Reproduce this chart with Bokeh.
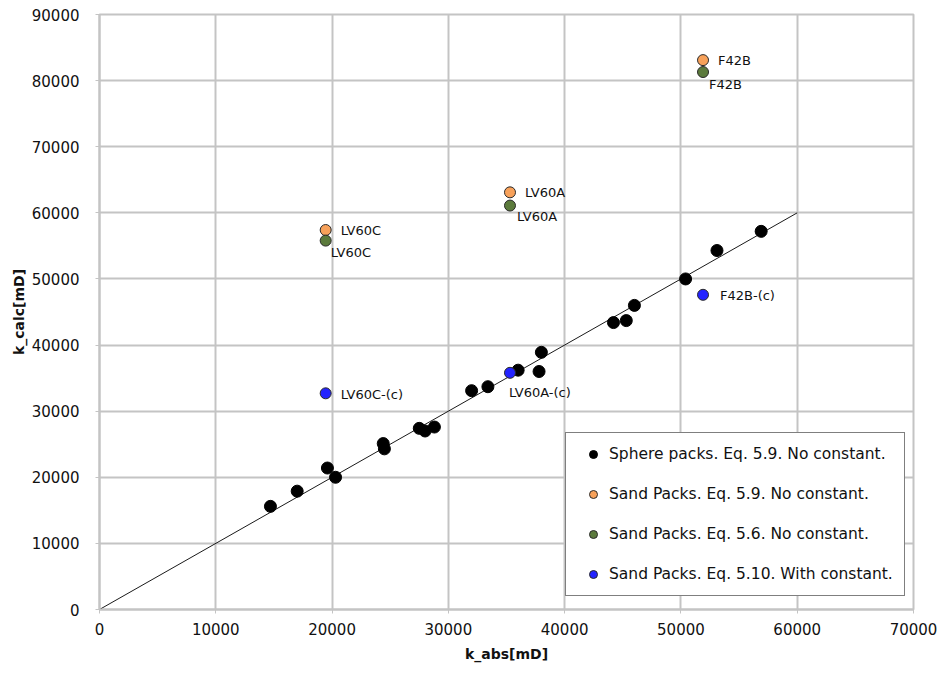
from bokeh.plotting import figure
from bokeh.models import (Range1d, Legend, LegendItem, ColumnDataSource,
                          SingleIntervalTicker, NumeralTickFormatter)
from bokeh.core.properties import value
from bokeh.embed import file_html
from bokeh.resources import INLINE

# Sphere packs, Eq. 5.9 (no constant)
sphere_k_abs = [14700, 17000, 19600, 20300, 24400, 24500, 27500, 28000, 28800,
                32000, 33400, 36000, 37800, 38000, 44200, 45300, 46000,
                50400, 53100, 56900]
sphere_k_calc = [15600, 17900, 21400, 20000, 25100, 24300, 27400, 27000, 27600,
                 33100, 33700, 36200, 36000, 38900, 43400, 43700, 46000,
                 50000, 54300, 57200]

# Sand packs
sand_names = ["LV60C", "LV60A", "F42B"]
sand_k_abs = [19450, 35300, 51900]
sand_eq59 = [57400, 63100, 83100]
sand_eq56 = [55800, 61100, 81300]
sand_eq510 = [32700, 35800, 47600]
sand_eq510_names = ["LV60C-(c)", "LV60A-(c)", "F42B-(c)"]

# 1:1 reference line
ref_k = [0, 60000]

GRID = "#c4c4c4"
ORANGE = "#f7a15a"
GREEN = "#5b7a3c"
BLUE = "#2323ff"
FONT = "DejaVu Sans"
INK = "#111111"

p = figure(width=940, height=676, output_backend="svg", toolbar_location=None,
           x_range=Range1d(0, 70000), y_range=Range1d(0, 90000),
           min_border_left=99, min_border_right=27, min_border_top=14,
           min_border_bottom=67)

p.background_fill_color = "white"
p.border_fill_color = "white"
p.outline_line_color = GRID
p.outline_line_width = 2

for ax in (p.xaxis[0], p.yaxis[0]):
    ax.ticker = SingleIntervalTicker(interval=10000)
    ax.formatter = NumeralTickFormatter(format="0")
    ax.axis_line_color = GRID
    ax.axis_line_width = 2
    ax.major_tick_line_color = GRID
    ax.major_tick_out = 4
    ax.major_tick_in = 0
    ax.minor_tick_line_color = None
    ax.major_label_text_font = FONT
    ax.major_label_text_font_size = "15px"
    ax.major_label_text_color = INK
    ax.axis_label_text_font = FONT
    ax.axis_label_text_font_size = "14px"
    ax.axis_label_text_font_style = "bold"
    ax.axis_label_text_color = INK

p.xaxis.axis_label = "k_abs[mD]"
p.yaxis.axis_label = "k_calc[mD]"
p.xaxis.major_label_standoff = 9
p.yaxis.major_label_standoff = 16
p.xaxis.axis_label_standoff = 8
p.yaxis.axis_label_standoff = 2

for g in (p.xgrid[0], p.ygrid[0]):
    g.grid_line_color = GRID
    g.grid_line_width = 2

p.line(ref_k, ref_k, line_color="#1a1a1a", line_width=1)

r_sphere = p.scatter(sphere_k_abs, sphere_k_calc, size=12, fill_color="black",
                     line_color="black", line_width=1)
r_59 = p.scatter(sand_k_abs, sand_eq59, size=11, fill_color=ORANGE,
                 line_color="#2a2a2a", line_width=1)
r_56 = p.scatter(sand_k_abs, sand_eq56, size=11, fill_color=GREEN,
                 line_color="#2a2a2a", line_width=1)
r_510 = p.scatter(sand_k_abs, sand_eq510, size=11, fill_color=BLUE,
                  line_color="#2a2a2a", line_width=1)

# point labels; offsets in screen pixels
label_src_59 = ColumnDataSource(dict(x=sand_k_abs, y=sand_eq59, t=sand_names,
                                     dx=[15, 15, 15], dy=[0, 0, 0]))
label_src_56 = ColumnDataSource(dict(x=sand_k_abs, y=sand_eq56, t=sand_names,
                                     dx=[5, 7, 6], dy=[12, 11, 12]))
label_src_510 = ColumnDataSource(dict(x=sand_k_abs, y=sand_eq510, t=sand_eq510_names,
                                      dx=[15, -1, 17], dy=[1, 20, 1]))
for src in (label_src_59, label_src_56, label_src_510):
    p.text(x="x", y="y", text="t", x_offset="dx", y_offset="dy", source=src,
           text_font=value(FONT), text_font_size="13px", text_color=INK,
           text_align="left", text_baseline="middle")

legend = Legend(items=[
    LegendItem(label="Sphere packs. Eq. 5.9. No constant.", renderers=[r_sphere]),
    LegendItem(label="Sand Packs. Eq. 5.9. No constant.", renderers=[r_59]),
    LegendItem(label="Sand Packs. Eq. 5.6. No constant.", renderers=[r_56]),
    LegendItem(label="Sand Packs. Eq. 5.10. With constant.", renderers=[r_510]),
], location=(466, 13))
legend.label_text_font = FONT
legend.label_text_font_size = "15.5px"
legend.label_text_color = INK
legend.border_line_color = "black"
legend.border_line_width = 1.5
legend.background_fill_color = "white"
legend.background_fill_alpha = 1
legend.padding = 11
legend.spacing = 20
legend.label_height = 20
legend.glyph_height = 20
legend.glyph_width = 32
legend.label_standoff = -4
legend.margin = 0
p.add_layout(legend)

open("out.html", "w").write(file_html(p, INLINE))
